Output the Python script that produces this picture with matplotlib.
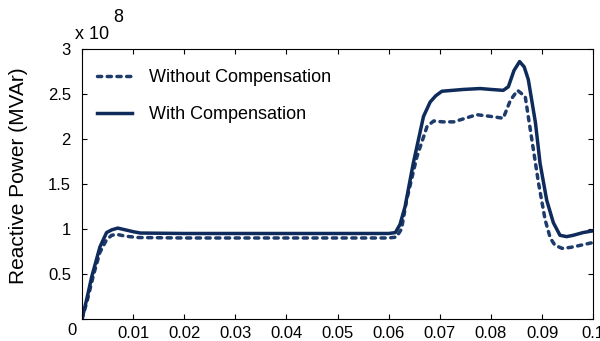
import matplotlib as mpl
mpl.use('Agg')
import matplotlib.pyplot as plt
import numpy as np

plt.rcParams['font.family'] = ['Liberation Sans', 'DejaVu Sans']

# time (s) and reactive power (x 1e8 MVAr)
t_with = [0, 0.001, 0.0019, 0.0035, 0.0048, 0.0058, 0.007, 0.0085, 0.0100, 0.0114,
          0.02, 0.03, 0.04, 0.05, 0.06, 0.0613, 0.0622, 0.0632, 0.0648, 0.0668,
          0.0681, 0.0692, 0.0704, 0.0725, 0.0746, 0.0779, 0.0800, 0.0824, 0.0834, 0.0845,
          0.0856, 0.0865, 0.0873, 0.0887, 0.0896, 0.0909, 0.0922, 0.0935, 0.0948,
          0.0961, 0.0980, 0.1]
q_with = [0, 0.24, 0.47, 0.80, 0.96, 0.99, 1.01, 0.99, 0.97, 0.955,
          0.95, 0.95, 0.95, 0.95, 0.95, 0.96, 1.05, 1.25, 1.73, 2.25,
          2.41, 2.48, 2.53, 2.54, 2.55, 2.56, 2.55, 2.54, 2.58, 2.76,
          2.86, 2.80, 2.66, 2.18, 1.73, 1.32, 1.07, 0.93, 0.915,
          0.93, 0.96, 0.98]

t_without = [0, 0.001, 0.0022, 0.0035, 0.0048, 0.0058, 0.0068, 0.0085, 0.011,
             0.02, 0.03, 0.04, 0.05, 0.06, 0.0615, 0.0625, 0.0635, 0.0655, 0.0675,
             0.0688, 0.0705, 0.0727, 0.0750, 0.0772, 0.0800, 0.0824, 0.0838, 0.0852,
             0.0867, 0.0880, 0.0893, 0.0906, 0.0916, 0.0925, 0.0939, 0.0955, 0.0968, 0.1]
q_without = [0, 0.2, 0.48, 0.74, 0.88, 0.93, 0.94, 0.92, 0.905,
             0.9, 0.9, 0.9, 0.9, 0.9, 0.91, 1.0, 1.32, 1.80, 2.14,
             2.20, 2.19, 2.19, 2.23, 2.27, 2.25, 2.23, 2.43, 2.54,
             2.47, 1.99, 1.51, 1.10, 0.9, 0.82, 0.785, 0.795, 0.81, 0.85]

xticks = [0, 0.01, 0.02, 0.03, 0.04, 0.05, 0.06, 0.07, 0.08, 0.09, 0.1]
xlabels = ['', '0.01', '0.02', '0.03', '0.04', '0.05', '0.06', '0.07', '0.08', '0.09', '0.1']
yticks = [0, 0.5, 1, 1.5, 2, 2.5, 3]
ylabels = ['', '0.5', '1', '1.5', '2', '2.5', '3']

c_with = '#0f2b5b'
c_without = '#1d3b6b'

fig = plt.figure(figsize=(6, 3.41), dpi=100)
ax = fig.add_axes([0.1367, 0.0645, 0.852, 0.792])

ax.plot(t_without, q_without, color=c_without, lw=2.5, dashes=(1.2, 1.6),
        dash_capstyle='round', label='Without Compensation')
ax.plot(t_with, q_with, color=c_with, lw=2.5, label='With Compensation')

ax.set_xlim(0, 0.1)
ax.set_ylim(0, 3)
ax.set_xticks(xticks)
ax.set_xticklabels(xlabels)
ax.set_yticks(yticks)
ax.set_yticklabels(ylabels)
ax.tick_params(direction='in', top=True, right=True, length=3.6, width=0.8, labelsize=12)
ax.tick_params(axis='x', pad=5)
ax.tick_params(axis='y', pad=8)
for s in ax.spines.values():
  s.set_linewidth(0.8)

ax.annotate('0', xy=(0, 0), xycoords='data', xytext=(-7.2, -8.5),
            textcoords='offset points', ha='center', va='center', fontsize=12,
            annotation_clip=False)

ax.set_ylabel('Reactive Power (MVAr)', fontsize=15)
ax.yaxis.set_label_coords(-0.106, 0.53)

ax.text(-0.014, 1.052, 'x 10', transform=ax.transAxes, fontsize=13, ha='left', va='center')
ax.text(0.062, 1.118, '8', transform=ax.transAxes, fontsize=13, ha='left', va='center')

ax.legend(loc='upper left', bbox_to_anchor=(0.03, 0.925), frameon=False, fontsize=13,
          handlelength=1.9, handletextpad=0.95, labelspacing=1.1, borderpad=0,
          borderaxespad=0)

plt.savefig('out.png', dpi=100)
